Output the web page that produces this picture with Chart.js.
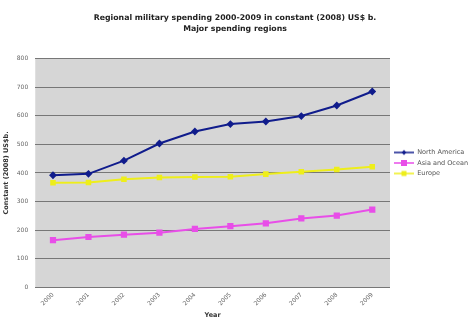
<!DOCTYPE html>
<html>
<head>
<meta charset="utf-8">
<script src="https://cdn.jsdelivr.net/npm/chart.js@4"></script>
<style>
  html, body { margin: 0; padding: 0; background: #fff; }
  #wrap { width: 468px; height: 320px; }
</style>
</head>
<body>
<div id="wrap"><canvas id="chart"></canvas></div>
<script>
const years = ['2000','2001','2002','2003','2004','2005','2006','2007','2008','2009'];
const northAmerica = [392, 397, 443, 503, 545, 571, 580, 599, 636, 685];
const asiaOceania = [165, 176, 184, 191, 204, 214, 224, 241, 251, 272];
const europe = [366, 367, 378, 384, 386, 387, 396, 404, 412, 422];
const yTicks = [0, 100, 200, 300, 400, 500, 600, 700, 800];

// legend marker: short line with the point marker in the middle
function legendIcon(color, shape, size) {
    let c = document.createElement('canvas');
    c.width = 20; c.height = 8;
    let ctx = c.getContext('2d');
    ctx.strokeStyle = color;
    ctx.fillStyle = color;
    ctx.lineWidth = 1.5;
    ctx.beginPath(); ctx.moveTo(0, 4); ctx.lineTo(20, 4); ctx.stroke();
    ctx.beginPath();
    if (shape === 'diamond') {
        ctx.moveTo(10, 4 - size); ctx.lineTo(10 + size, 4); ctx.lineTo(10, 4 + size); ctx.lineTo(10 - size, 4);
    } else {
        ctx.rect(10 - size, 4 - size, size * 2, size * 2);
    }
    ctx.fill();
    return c;
}

const plotBg = {
    id: 'plotBg',
    beforeDraw(chart) {
        let a = chart.chartArea;
        chart.ctx.save();
        chart.ctx.fillStyle = '#d6d6d6';
        chart.ctx.fillRect(a.left, a.top, a.right - a.left, a.bottom - a.top);
        chart.ctx.restore();
    }
};

const series = [
    {label: 'North America', data: northAmerica, color: '#101c8c', style: 'rectRot', r: 2.5, shape: 'diamond'},
    {label: 'Asia and Oceania', data: asiaOceania, color: '#e84ee8', style: 'rect', r: 3, shape: 'square'},
    {label: 'Europe', data: europe, color: '#eeee1a', style: 'rect', r: 2.5, shape: 'square'}
];

new Chart(document.getElementById('chart'), {
    type: 'line',
    data: {
        labels: years,
        datasets: series.map(s => ({
            label: s.label,
            data: s.data,
            borderColor: s.color,
            backgroundColor: s.color,
            borderWidth: 2,
            pointStyle: s.style,
            pointRadius: s.r,
            pointHoverRadius: s.r,
            tension: 0
        }))
    },
    options: {
        responsive: true,
        maintainAspectRatio: false,
        animation: false,
        layout: {padding: {top: 6, right: 0, left: 2, bottom: 0}},
        plugins: {
            title: {
                display: true,
                text: ['Regional military spending 2000-2009 in constant (2008) US$ b.', 'Major spending regions'],
                color: '#222',
                font: {family: 'DejaVu Sans', size: 7.8, weight: 'bold', lineHeight: 1.45},
                padding: {top: 6, bottom: 24}
            },
            legend: {
                position: 'right',
                align: 'center',
                maxWidth: 78,
                labels: {
                    color: '#555',
                    font: {family: 'DejaVu Sans', size: 6.5},
                    usePointStyle: true,
                    pointStyleWidth: 20,
                    padding: 4,
                    generateLabels(chart) {
                        return series.map((s, i) => ({
                            text: s.label,
                            pointStyle: legendIcon(s.color, s.shape, s.r),
                            fillStyle: s.color,
                            strokeStyle: s.color,
                            lineWidth: 0,
                            hidden: false,
                            datasetIndex: i,
                            fontColor: '#555'
                        }));
                    }
                }
            },
            tooltip: {enabled: false}
        },
        scales: {
            x: {
                offset: true,
                grid: {display: false, drawTicks: false},
                border: {display: false},
                ticks: {
                    color: '#666',
                    font: {family: 'DejaVu Sans', size: 6},
                    minRotation: 45,
                    maxRotation: 45,
                    padding: 4
                },
                title: {
                    display: true,
                    text: 'Year',
                    color: '#333',
                    font: {family: 'DejaVu Sans', size: 6.5, weight: 'bold'},
                    padding: {top: 0, bottom: 1}
                }
            },
            y: {
                min: 0,
                max: 800,
                afterBuildTicks(axis) { axis.ticks = yTicks.map(v => ({value: v})); },
                grid: {color: '#777', lineWidth: 1, drawTicks: false},
                border: {display: false},
                ticks: {
                    color: '#666',
                    font: {family: 'DejaVu Sans', size: 6},
                    padding: 7
                },
                title: {
                    display: true,
                    text: 'Constant (2008) US$b.',
                    color: '#333',
                    font: {family: 'DejaVu Sans', size: 6.5, weight: 'bold'},
                    padding: {top: 0, bottom: 0}
                }
            }
        }
    },
    plugins: [plotBg]
});
</script>
</body>
</html>
